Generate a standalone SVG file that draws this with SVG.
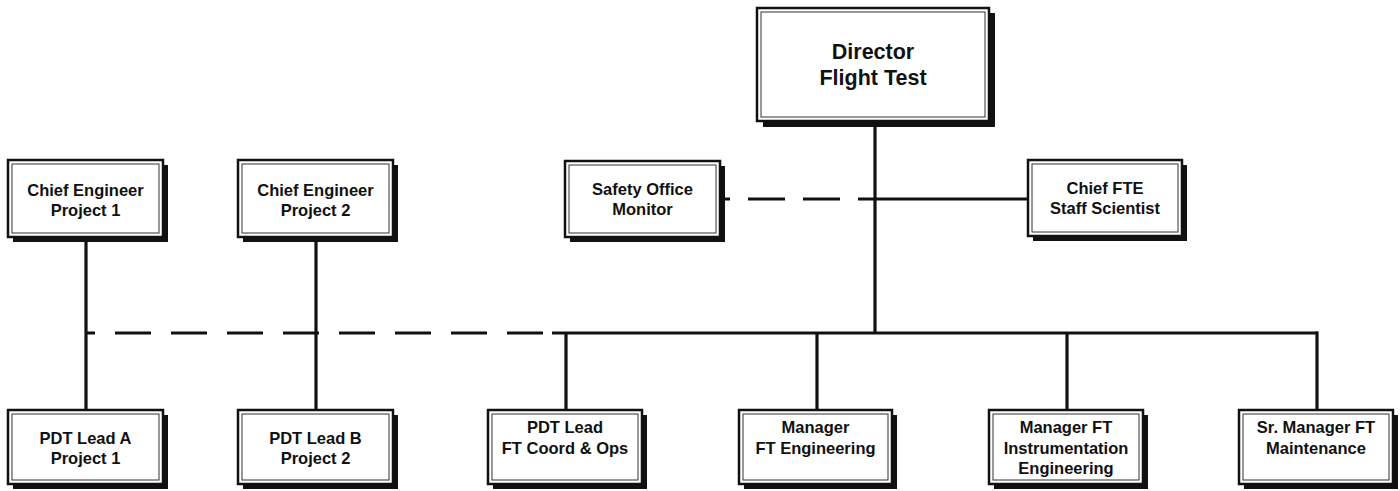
<svg xmlns="http://www.w3.org/2000/svg" width="1400" height="491" viewBox="0 0 1400 491">
<style>
.shadow{fill:#111}
.box{fill:#fff;stroke:#111;stroke-width:2.5}
.inner{fill:none;stroke:#333;stroke-width:1}
.t{font-family:"Liberation Sans",Arial,sans-serif;font-weight:bold;font-size:16.5px;fill:#111;text-anchor:middle}
.big{font-size:21.5px}
.solid{fill:none;stroke:#111;stroke-width:3.2}
.dash{fill:none;stroke:#111;stroke-width:3.2}
</style>
<rect width="1400" height="491" fill="#fff"/>
<g id="connectors">
  <path class="solid" d="M875 125V333" stroke-width="4.5"/>
  <path class="solid" d="M875 199H1028"/>
  <path class="dash" d="M720 199H875" stroke-dasharray="37 18" stroke-dashoffset="27"/>
  <path class="solid" d="M86 238V410"/>
  <path class="solid" d="M316 238V410"/>
  <path class="dash" d="M86 333H552" stroke-dasharray="36 20" stroke-dashoffset="27"/>
  <path class="solid" d="M552 333H1318"/>
  <path class="solid" d="M566 333V410"/>
  <path class="solid" d="M817 333V410"/>
  <path class="solid" d="M1067 333V410"/>
  <path class="solid" d="M1317 331.5V410"/>
</g>
<g id="director">
  <rect class="shadow" x="763" y="13" width="232" height="114"/>
  <rect class="box" x="757" y="8" width="232" height="113"/>
  <rect class="inner" x="761" y="12" width="224" height="105"/>
  <text class="t big" x="873" y="59">Director</text>
  <text class="t big" x="873" y="85">Flight Test</text>
</g>
<g id="chief-eng-1">
  <rect class="shadow" x="13" y="165" width="155" height="77"/>
  <rect class="box" x="8" y="160" width="155" height="77"/>
  <rect class="inner" x="12" y="164" width="147" height="69"/>
  <text class="t" x="85.5" y="195.5">Chief Engineer</text>
  <text class="t" x="85.5" y="215.5">Project 1</text>
</g>
<g id="chief-eng-2">
  <rect class="shadow" x="243" y="165" width="155" height="77"/>
  <rect class="box" x="238" y="160" width="155" height="77"/>
  <rect class="inner" x="242" y="164" width="147" height="69"/>
  <text class="t" x="315.5" y="195.5">Chief Engineer</text>
  <text class="t" x="315.5" y="215.5">Project 2</text>
</g>
<g id="safety-office">
  <rect class="shadow" x="570" y="166" width="155" height="76"/>
  <rect class="box" x="565" y="161" width="155" height="76"/>
  <rect class="inner" x="569" y="165" width="147" height="68"/>
  <text class="t" x="642.5" y="195">Safety Office</text>
  <text class="t" x="642.5" y="215">Monitor</text>
</g>
<g id="chief-fte">
  <rect class="shadow" x="1033" y="165" width="154" height="76"/>
  <rect class="box" x="1028" y="160" width="154" height="76"/>
  <rect class="inner" x="1032" y="164" width="146" height="68"/>
  <text class="t" x="1105" y="194">Chief FTE</text>
  <text class="t" x="1105" y="214">Staff Scientist</text>
</g>
<g id="pdt-lead-a">
  <rect class="shadow" x="13" y="415" width="155" height="74"/>
  <rect class="box" x="8" y="410" width="155" height="74"/>
  <rect class="inner" x="12" y="414" width="147" height="66"/>
  <text class="t" x="85.5" y="443.5">PDT Lead A</text>
  <text class="t" x="85.5" y="463.5">Project 1</text>
</g>
<g id="pdt-lead-b">
  <rect class="shadow" x="243" y="415" width="155" height="74"/>
  <rect class="box" x="238" y="410" width="155" height="74"/>
  <rect class="inner" x="242" y="414" width="147" height="66"/>
  <text class="t" x="315.5" y="443.5">PDT Lead B</text>
  <text class="t" x="315.5" y="463.5">Project 2</text>
</g>
<g id="pdt-lead-ops">
  <rect class="shadow" x="493" y="415" width="154" height="74"/>
  <rect class="box" x="488" y="410" width="154" height="74"/>
  <rect class="inner" x="492" y="414" width="146" height="66"/>
  <text class="t" x="565" y="432.5">PDT Lead</text>
  <text class="t" x="565" y="453.5">FT Coord &amp; Ops</text>
</g>
<g id="manager-ft-eng">
  <rect class="shadow" x="744" y="415" width="153" height="74"/>
  <rect class="box" x="739" y="410" width="153" height="74"/>
  <rect class="inner" x="743" y="414" width="145" height="66"/>
  <text class="t" x="815.5" y="432.5">Manager</text>
  <text class="t" x="815.5" y="453.5">FT Engineering</text>
</g>
<g id="manager-ft-instr">
  <rect class="shadow" x="994" y="415" width="154" height="74"/>
  <rect class="box" x="989" y="410" width="154" height="74"/>
  <rect class="inner" x="993" y="414" width="146" height="66"/>
  <text class="t" x="1066" y="432.5">Manager FT</text>
  <text class="t" x="1066" y="453.5">Instrumentation</text>
  <text class="t" x="1066" y="474">Engineering</text>
</g>
<g id="sr-manager-ft">
  <rect class="shadow" x="1244" y="415" width="154" height="74"/>
  <rect class="box" x="1239" y="410" width="154" height="74"/>
  <rect class="inner" x="1243" y="414" width="146" height="66"/>
  <text class="t" x="1316" y="432.5">Sr. Manager FT</text>
  <text class="t" x="1316" y="453.5">Maintenance</text>
</g>
</svg>
